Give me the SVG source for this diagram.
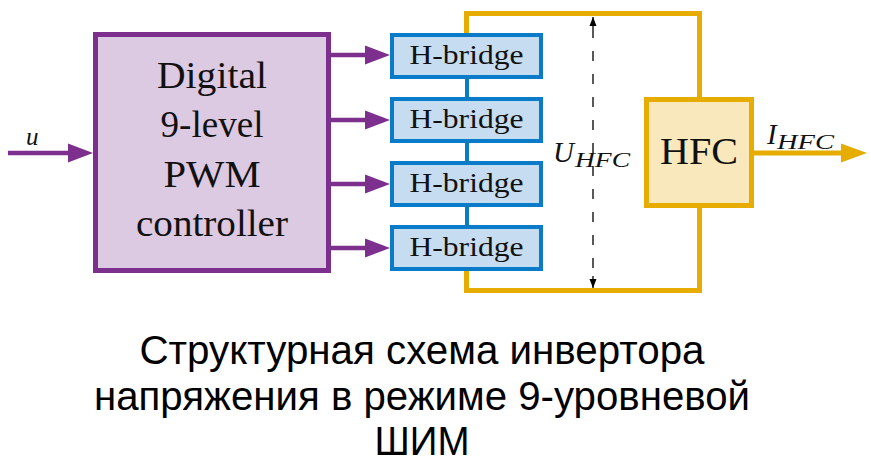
<svg xmlns="http://www.w3.org/2000/svg" width="871" height="469" viewBox="0 0 871 469">
  <style>
    .serif { font-family: "Liberation Serif", "DejaVu Serif", serif; fill: #111; }
    .it { font-style: italic; }
    .big { font-size: 38px; text-anchor: middle; }
    .wire-p { stroke: #7d2f8e; stroke-width: 4.5; fill: none; }
    .wire-o { stroke: #e6ac00; stroke-width: 5; fill: none; }
    .wire-b { stroke: #0a7bc8; stroke-width: 4; fill: none; }
    .hb rect { fill: #c6dcf0; stroke: #0a7bc8; stroke-width: 4; }
    .hb text { font-family: "Liberation Serif", "DejaVu Serif", serif; font-size: 27px; text-anchor: middle; fill: #111; }
    .caption { font-family: "Liberation Sans", Arial, sans-serif; font-size: 41px; text-anchor: middle; fill: #000; }
  </style>
  <defs>
    <marker id="arrP" markerUnits="userSpaceOnUse" markerWidth="26" markerHeight="20" refX="0" refY="10" orient="auto">
      <path d="M0 0.5 L25 10 L0 19.5 Z" fill="#7d2f8e"/>
    </marker>
    <marker id="arrO" markerUnits="userSpaceOnUse" markerWidth="27" markerHeight="20" refX="0" refY="10" orient="auto">
      <path d="M0 0.5 L26 10 L0 19.5 Z" fill="#e6ac00"/>
    </marker>
    <marker id="arrK" markerUnits="userSpaceOnUse" markerWidth="10" markerHeight="8" refX="9" refY="4" orient="auto">
      <path d="M0 0.5 L9 4 L0 7.5 Z" fill="#000"/>
    </marker>
  </defs>
  <rect width="871" height="469" fill="#fff"/>

  <!-- connectors -->
  <g id="connectors">
    <!-- input u -->
    <line class="wire-p" x1="8" y1="153" x2="68" y2="153" marker-end="url(#arrP)"/>
    <!-- controller outputs -->
    <line class="wire-p" x1="330" y1="55" x2="365" y2="55" marker-end="url(#arrP)"/>
    <line class="wire-p" x1="330" y1="120" x2="365" y2="120" marker-end="url(#arrP)"/>
    <line class="wire-p" x1="330" y1="184" x2="365" y2="184" marker-end="url(#arrP)"/>
    <line class="wire-p" x1="330" y1="248" x2="365" y2="248" marker-end="url(#arrP)"/>
    <!-- series links between bridges -->
    <line class="wire-b" x1="467" y1="77" x2="467" y2="99"/>
    <line class="wire-b" x1="467" y1="141" x2="467" y2="163"/>
    <line class="wire-b" x1="467" y1="205" x2="467" y2="227"/>
    <!-- output loop through HFC -->
    <path class="wire-o" d="M466.5 33 V13.5 H699.5 V98"/>
    <path class="wire-o" d="M699.5 207 V290.5 H466.5 V271"/>
    <!-- output current -->
    <line class="wire-o" x1="754" y1="153" x2="841" y2="153" marker-end="url(#arrO)"/>
    <!-- voltage measurement -->
    <line x1="593" y1="28" x2="593" y2="276" stroke="#000" stroke-width="1.3" stroke-dasharray="10 13"/>
    <line x1="593" y1="28" x2="593" y2="17" stroke="#000" stroke-width="1.3" marker-end="url(#arrK)"/>
    <line x1="593" y1="276" x2="593" y2="288" stroke="#000" stroke-width="1.3" marker-end="url(#arrK)"/>
  </g>

  <!-- input label -->
  <text class="serif it" x="26" y="145" font-size="25">u</text>

  <!-- controller -->
  <g id="controller">
    <rect x="95.5" y="34.5" width="233" height="236" fill="#dcc9e2" stroke="#7d2f8e" stroke-width="5"/>
    <text class="serif big" x="212" y="88" textLength="110" lengthAdjust="spacingAndGlyphs">Digital</text>
    <text class="serif big" x="212" y="137" textLength="103" lengthAdjust="spacingAndGlyphs">9-level</text>
    <text class="serif big" x="212" y="187" textLength="97" lengthAdjust="spacingAndGlyphs">PWM</text>
    <text class="serif big" x="212" y="236" textLength="152" lengthAdjust="spacingAndGlyphs">controller</text>
  </g>

  <!-- H-bridges -->
  <g id="hbridge1" class="hb">
    <rect x="392" y="35" width="149" height="42"/>
    <text x="466.5" y="64" textLength="114" lengthAdjust="spacingAndGlyphs">H-bridge</text>
  </g>
  <g id="hbridge2" class="hb">
    <rect x="392" y="99" width="149" height="42"/>
    <text x="466.5" y="128" textLength="114" lengthAdjust="spacingAndGlyphs">H-bridge</text>
  </g>
  <g id="hbridge3" class="hb">
    <rect x="392" y="163" width="149" height="42"/>
    <text x="466.5" y="192" textLength="114" lengthAdjust="spacingAndGlyphs">H-bridge</text>
  </g>
  <g id="hbridge4" class="hb">
    <rect x="392" y="227" width="149" height="42"/>
    <text x="466.5" y="256" textLength="114" lengthAdjust="spacingAndGlyphs">H-bridge</text>
  </g>

  <!-- HFC -->
  <g id="hfc">
    <rect x="646.5" y="99.5" width="105" height="106" fill="#f8e8bb" stroke="#e6ac00" stroke-width="5"/>
    <text class="serif big" x="699" y="164" textLength="78" lengthAdjust="spacingAndGlyphs">HFC</text>
  </g>

  <!-- voltage and current labels -->
  <text class="serif it" x="553" y="162" font-size="29">U</text>
  <text class="serif it" x="575" y="167" font-size="20" textLength="55" lengthAdjust="spacingAndGlyphs">HFC</text>
  <text class="serif it" x="767" y="144" font-size="29">I</text>
  <text class="serif it" x="777" y="149" font-size="20" textLength="57" lengthAdjust="spacingAndGlyphs">HFC</text>

  <!-- caption -->
  <g id="caption" class="caption">
    <text x="422" y="364" textLength="565" lengthAdjust="spacingAndGlyphs">Структурная схема инвертора</text>
    <text x="422" y="410" textLength="656" lengthAdjust="spacingAndGlyphs">напряжения в режиме 9-уровневой</text>
    <text x="422" y="455" textLength="95" lengthAdjust="spacingAndGlyphs">ШИМ</text>
  </g>
</svg>
